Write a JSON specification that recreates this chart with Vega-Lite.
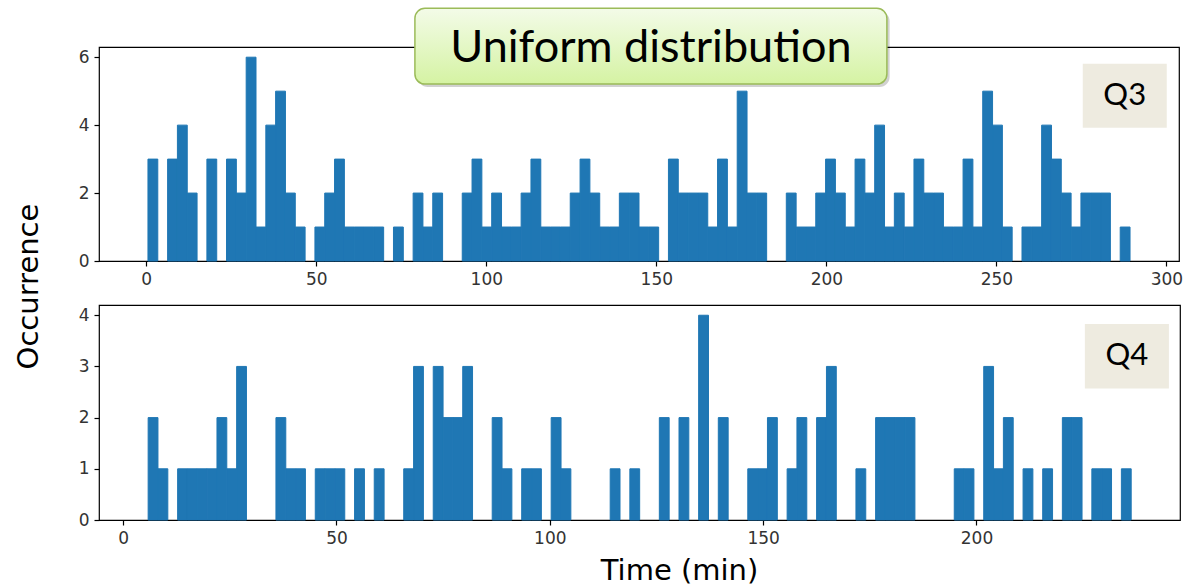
{
  "$schema": "https://vega.github.io/schema/vega-lite/v6.json",
  "background": "white",
  "padding": {"left": 13, "top": 6, "right": 0, "bottom": 0},
  "spacing": 44,
  "bounds": "flush",
  "config": {
    "view": {"stroke": "#000000", "strokeWidth": 1.2},
    "axis": {"grid": false, "domain": false, "tickColor": "#000000", "tickSize": 5, "tickWidth": 1.2, "labelFont": "DejaVu Sans", "labelFontSize": 17, "labelColor": "#333333", "labelPadding": 5, "titleFont": "DejaVu Sans", "titleFontSize": 29, "titleFontWeight": "normal", "titleColor": "#000000", "format": "d"}
  },
  "datasets": {
    "q3": [
      {"t0": 0.50, "t1": 3.39, "n": 3}, {"t0": 6.28, "t1": 9.16, "n": 3}, {"t0": 9.16, "t1": 12.05, "n": 4}, {"t0": 12.05, "t1": 14.94, "n": 2},
      {"t0": 17.83, "t1": 20.72, "n": 3}, {"t0": 23.60, "t1": 26.49, "n": 3}, {"t0": 26.49, "t1": 29.38, "n": 2}, {"t0": 29.38, "t1": 32.27, "n": 6},
      {"t0": 32.27, "t1": 35.16, "n": 1}, {"t0": 35.16, "t1": 38.04, "n": 4}, {"t0": 38.04, "t1": 40.93, "n": 5}, {"t0": 40.93, "t1": 43.82, "n": 2},
      {"t0": 43.82, "t1": 46.71, "n": 1}, {"t0": 49.60, "t1": 52.48, "n": 1}, {"t0": 52.48, "t1": 55.37, "n": 2}, {"t0": 55.37, "t1": 58.26, "n": 3},
      {"t0": 58.26, "t1": 61.15, "n": 1}, {"t0": 61.15, "t1": 64.04, "n": 1}, {"t0": 64.04, "t1": 66.92, "n": 1}, {"t0": 66.92, "t1": 69.81, "n": 1},
      {"t0": 72.70, "t1": 75.59, "n": 1}, {"t0": 78.48, "t1": 81.36, "n": 2}, {"t0": 81.36, "t1": 84.25, "n": 1}, {"t0": 84.25, "t1": 87.14, "n": 2},
      {"t0": 92.92, "t1": 95.80, "n": 2}, {"t0": 95.80, "t1": 98.69, "n": 3}, {"t0": 98.69, "t1": 101.58, "n": 1}, {"t0": 101.58, "t1": 104.47, "n": 2},
      {"t0": 104.47, "t1": 107.36, "n": 1}, {"t0": 107.36, "t1": 110.24, "n": 1}, {"t0": 110.24, "t1": 113.13, "n": 2}, {"t0": 113.13, "t1": 116.02, "n": 3},
      {"t0": 116.02, "t1": 118.91, "n": 1}, {"t0": 118.91, "t1": 121.80, "n": 1}, {"t0": 121.80, "t1": 124.68, "n": 1}, {"t0": 124.68, "t1": 127.57, "n": 2},
      {"t0": 127.57, "t1": 130.46, "n": 3}, {"t0": 130.46, "t1": 133.35, "n": 2}, {"t0": 133.35, "t1": 136.24, "n": 1}, {"t0": 136.24, "t1": 139.12, "n": 1},
      {"t0": 139.12, "t1": 142.01, "n": 2}, {"t0": 142.01, "t1": 144.90, "n": 2}, {"t0": 144.90, "t1": 147.79, "n": 1}, {"t0": 147.79, "t1": 150.68, "n": 1},
      {"t0": 153.56, "t1": 156.45, "n": 3}, {"t0": 156.45, "t1": 159.34, "n": 2}, {"t0": 159.34, "t1": 162.23, "n": 2}, {"t0": 162.23, "t1": 165.12, "n": 2},
      {"t0": 165.12, "t1": 168.00, "n": 1}, {"t0": 168.00, "t1": 170.89, "n": 3}, {"t0": 170.89, "t1": 173.78, "n": 1}, {"t0": 173.78, "t1": 176.67, "n": 5},
      {"t0": 176.67, "t1": 179.56, "n": 2}, {"t0": 179.56, "t1": 182.44, "n": 2}, {"t0": 188.22, "t1": 191.11, "n": 2}, {"t0": 191.11, "t1": 194.00, "n": 1},
      {"t0": 194.00, "t1": 196.88, "n": 1}, {"t0": 196.88, "t1": 199.77, "n": 2}, {"t0": 199.77, "t1": 202.66, "n": 3}, {"t0": 202.66, "t1": 205.55, "n": 2},
      {"t0": 205.55, "t1": 208.44, "n": 1}, {"t0": 208.44, "t1": 211.32, "n": 3}, {"t0": 211.32, "t1": 214.21, "n": 2}, {"t0": 214.21, "t1": 217.10, "n": 4},
      {"t0": 217.10, "t1": 219.99, "n": 1}, {"t0": 219.99, "t1": 222.88, "n": 2}, {"t0": 222.88, "t1": 225.76, "n": 1}, {"t0": 225.76, "t1": 228.65, "n": 3},
      {"t0": 228.65, "t1": 231.54, "n": 2}, {"t0": 231.54, "t1": 234.43, "n": 2}, {"t0": 234.43, "t1": 237.32, "n": 1}, {"t0": 237.32, "t1": 240.20, "n": 1},
      {"t0": 240.20, "t1": 243.09, "n": 3}, {"t0": 243.09, "t1": 245.98, "n": 1}, {"t0": 245.98, "t1": 248.87, "n": 5}, {"t0": 248.87, "t1": 251.76, "n": 4},
      {"t0": 251.76, "t1": 254.64, "n": 1}, {"t0": 257.53, "t1": 260.42, "n": 1}, {"t0": 260.42, "t1": 263.31, "n": 1}, {"t0": 263.31, "t1": 266.20, "n": 4},
      {"t0": 266.20, "t1": 269.08, "n": 3}, {"t0": 269.08, "t1": 271.97, "n": 2}, {"t0": 271.97, "t1": 274.86, "n": 1}, {"t0": 274.86, "t1": 277.75, "n": 2},
      {"t0": 277.75, "t1": 280.64, "n": 2}, {"t0": 280.64, "t1": 283.52, "n": 2}, {"t0": 286.41, "t1": 289.30, "n": 1}
    ],
    "q4": [
      {"t0": 5.86, "t1": 8.16, "n": 2}, {"t0": 8.16, "t1": 10.47, "n": 1}, {"t0": 12.77, "t1": 15.08, "n": 1}, {"t0": 15.08, "t1": 17.38, "n": 1},
      {"t0": 17.38, "t1": 19.68, "n": 1}, {"t0": 19.68, "t1": 21.99, "n": 1}, {"t0": 21.99, "t1": 24.29, "n": 2}, {"t0": 24.29, "t1": 26.60, "n": 1},
      {"t0": 26.60, "t1": 28.90, "n": 3}, {"t0": 35.81, "t1": 38.12, "n": 2}, {"t0": 38.12, "t1": 40.42, "n": 1}, {"t0": 40.42, "t1": 42.72, "n": 1},
      {"t0": 45.03, "t1": 47.33, "n": 1}, {"t0": 47.33, "t1": 49.64, "n": 1}, {"t0": 49.64, "t1": 51.94, "n": 1}, {"t0": 54.24, "t1": 56.55, "n": 1},
      {"t0": 58.85, "t1": 61.16, "n": 1}, {"t0": 65.76, "t1": 68.07, "n": 1}, {"t0": 68.07, "t1": 70.37, "n": 3}, {"t0": 72.68, "t1": 74.98, "n": 3},
      {"t0": 74.98, "t1": 77.28, "n": 2}, {"t0": 77.28, "t1": 79.59, "n": 2}, {"t0": 79.59, "t1": 81.89, "n": 3}, {"t0": 86.50, "t1": 88.80, "n": 2},
      {"t0": 88.80, "t1": 91.11, "n": 1}, {"t0": 93.41, "t1": 95.72, "n": 1}, {"t0": 95.72, "t1": 98.02, "n": 1}, {"t0": 100.32, "t1": 102.63, "n": 2},
      {"t0": 102.63, "t1": 104.93, "n": 1}, {"t0": 114.15, "t1": 116.45, "n": 1}, {"t0": 118.76, "t1": 121.06, "n": 1}, {"t0": 125.67, "t1": 127.97, "n": 2},
      {"t0": 130.28, "t1": 132.58, "n": 2}, {"t0": 134.88, "t1": 137.19, "n": 4}, {"t0": 139.49, "t1": 141.80, "n": 2}, {"t0": 146.40, "t1": 148.71, "n": 1},
      {"t0": 148.71, "t1": 151.01, "n": 1}, {"t0": 151.01, "t1": 153.32, "n": 2}, {"t0": 155.62, "t1": 157.92, "n": 1}, {"t0": 157.92, "t1": 160.23, "n": 2},
      {"t0": 162.53, "t1": 164.84, "n": 2}, {"t0": 164.84, "t1": 167.14, "n": 3}, {"t0": 171.75, "t1": 174.05, "n": 1}, {"t0": 176.36, "t1": 178.66, "n": 2},
      {"t0": 178.66, "t1": 180.96, "n": 2}, {"t0": 180.96, "t1": 183.27, "n": 2}, {"t0": 183.27, "t1": 185.57, "n": 2}, {"t0": 194.79, "t1": 197.09, "n": 1},
      {"t0": 197.09, "t1": 199.40, "n": 1}, {"t0": 201.70, "t1": 204.00, "n": 3}, {"t0": 204.00, "t1": 206.31, "n": 1}, {"t0": 206.31, "t1": 208.61, "n": 2},
      {"t0": 210.92, "t1": 213.22, "n": 1}, {"t0": 215.52, "t1": 217.83, "n": 1}, {"t0": 220.13, "t1": 222.44, "n": 2}, {"t0": 222.44, "t1": 224.74, "n": 2},
      {"t0": 227.04, "t1": 229.35, "n": 1}, {"t0": 229.35, "t1": 231.65, "n": 1}, {"t0": 233.96, "t1": 236.26, "n": 1}
    ]
  },
  "vconcat": [
    {
      "width": 1080,
      "height": 214,
      "layer": [
        {
          "data": {"name": "q3"},
          "mark": {"type": "rect", "color": "#1f77b4", "stroke": "#1f77b4", "strokeWidth": 1},
          "encoding": {
            "x": {"field": "t0", "type": "quantitative", "scale": {"domain": [-13.9, 303.7], "nice": false, "zero": false}, "axis": {"title": null, "values": [0, 50, 100, 150, 200, 250, 300]}},
            "x2": {"field": "t1"},
            "y": {"field": "n", "type": "quantitative", "scale": {"domain": [0, 6.3], "nice": false}, "axis": {"title": null, "values": [0, 2, 4, 6]}},
            "y2": {"datum": 0}
          }
        },
        {
          "data": {"values": [{"x0": 79.8, "x1": 218.6, "y0": 5.12, "y1": 7.35}]},
          "mark": {"type": "rect", "fill": "#000000", "opacity": 0.18, "cornerRadius": 10, "clip": false},
          "encoding": {
            "x": {"field": "x0", "type": "quantitative"},
            "x2": {"field": "x1"},
            "y": {"field": "y0", "type": "quantitative"},
            "y2": {"field": "y1"}
          }
        },
        {
          "data": {"values": [{"x0": 79.0, "x1": 217.8, "y0": 5.21, "y1": 7.44}]},
          "mark": {"type": "rect", "cornerRadius": 10, "stroke": "#9BBB59", "strokeWidth": 1.5, "clip": false,
            "fill": {"gradient": "linear", "x1": 0, "y1": 0, "x2": 0, "y2": 1, "stops": [{"offset": 0, "color": "#F3FBE8"}, {"offset": 1, "color": "#D5F3A3"}]}},
          "encoding": {
            "x": {"field": "x0", "type": "quantitative"},
            "x2": {"field": "x1"},
            "y": {"field": "y0", "type": "quantitative"},
            "y2": {"field": "y1"}
          }
        },
        {
          "data": {"values": [{"x": 148.4, "y": 6.28, "label": "Uniform distribution"}]},
          "mark": {"type": "text", "font": "Lato", "fontSize": 45, "color": "#000000", "align": "center", "baseline": "middle", "clip": false},
          "encoding": {
            "x": {"field": "x", "type": "quantitative"},
            "y": {"field": "y", "type": "quantitative"},
            "text": {"field": "label"}
          }
        },
        {
          "data": {"values": [{"x0": 275.4, "x1": 300.1, "y0": 3.92, "y1": 5.81}]},
          "mark": {"type": "rect", "fill": "#EEEBE0"},
          "encoding": {
            "x": {"field": "x0", "type": "quantitative"},
            "x2": {"field": "x1"},
            "y": {"field": "y0", "type": "quantitative"},
            "y2": {"field": "y1"}
          }
        },
        {
          "data": {"values": [{"x": 287.75, "y": 4.87, "label": "Q3"}]},
          "mark": {"type": "text", "font": "Lato", "fontSize": 31, "color": "#000000", "align": "center", "baseline": "middle"},
          "encoding": {
            "x": {"field": "x", "type": "quantitative"},
            "y": {"field": "y", "type": "quantitative"},
            "text": {"field": "label"}
          }
        }
      ]
    },
    {
      "width": 1081,
      "height": 215,
      "layer": [
        {
          "data": {"name": "q4"},
          "mark": {"type": "rect", "color": "#1f77b4", "stroke": "#1f77b4", "strokeWidth": 1},
          "encoding": {
            "x": {"field": "t0", "type": "quantitative", "scale": {"domain": [-5.66, 247.7], "nice": false, "zero": false},
              "axis": {"title": "Time (min)", "values": [0, 50, 100, 150, 200], "titleX": 580, "titleY": 59, "titleAlign": "center", "titleBaseline": "alphabetic"}},
            "x2": {"field": "t1"},
            "y": {"field": "n", "type": "quantitative", "scale": {"domain": [0, 4.2], "nice": false},
              "axis": {"title": "Occurrence", "values": [0, 1, 2, 3, 4], "titleX": -71, "titleY": -19, "titleAlign": "center", "titleBaseline": "middle", "titleAngle": 270}},
            "y2": {"datum": 0}
          }
        },
        {
          "data": {"values": [{"x0": 225.4, "x1": 245.1, "y0": 2.57, "y1": 3.83}]},
          "mark": {"type": "rect", "fill": "#EEEBE0"},
          "encoding": {
            "x": {"field": "x0", "type": "quantitative"},
            "x2": {"field": "x1"},
            "y": {"field": "y0", "type": "quantitative"},
            "y2": {"field": "y1"}
          }
        },
        {
          "data": {"values": [{"x": 235.25, "y": 3.2, "label": "Q4"}]},
          "mark": {"type": "text", "font": "Lato", "fontSize": 31, "color": "#000000", "align": "center", "baseline": "middle"},
          "encoding": {
            "x": {"field": "x", "type": "quantitative"},
            "y": {"field": "y", "type": "quantitative"},
            "text": {"field": "label"}
          }
        }
      ]
    }
  ]
}
